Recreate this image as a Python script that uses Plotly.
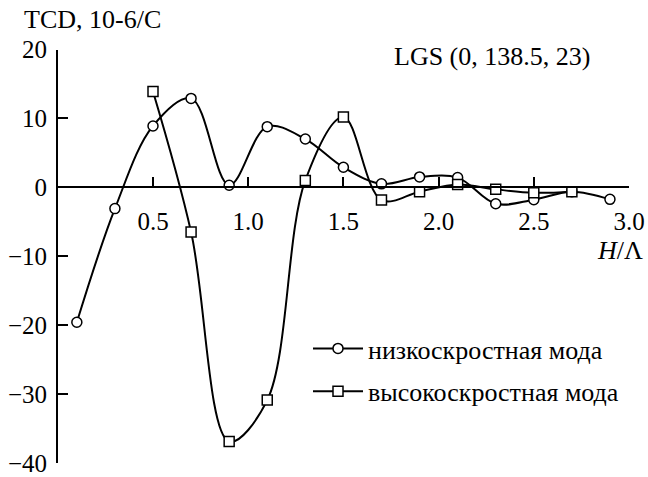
import plotly.graph_objects as go

# Thickness-dependent TCD of the two SAW modes on LGS (0, 138.5, 23)
h_low = [0.1, 0.3, 0.5, 0.7, 0.9, 1.1, 1.3, 1.5, 1.7, 1.9, 2.1, 2.3, 2.5, 2.7, 2.9]
tcd_low = [-19.6, -3.1, 8.9, 12.9, 0.3, 8.8, 7.0, 2.9, 0.5, 1.5, 1.4, -2.4, -1.8, -0.64, -1.75]

h_high = [0.5, 0.7, 0.9, 1.1, 1.3, 1.5, 1.7, 1.9, 2.1, 2.3, 2.5, 2.7]
tcd_high = [13.9, -6.5, -36.9, -30.9, 1.0, 10.2, -1.85, -0.64, 0.4, -0.3, -0.8, -0.64]

x_ticks = [0.5, 1.0, 1.5, 2.0, 2.5, 3.0]
x_ticktext = ["0.5", "1.0", "1.5", "2.0", "2.5", "3.0"]
y_ticks = [20, 10, 0, -10, -20, -30, -40]
y_ticktext = ["20", "10", "0", "\u221210", "\u221220", "\u221230", "\u221240"]

W, H = 648, 477
FONT = "Liberation Serif"
FS_TICK = 25
FS_TEXT = 26

x_dom = [57.8 / W, 629 / W]
y_dom = [(H - 462.8) / H, (H - 49.5) / H]
x_range = [0, 3.0]
y_range = [-40, 20]
# paper position of the y = 0 line, where the H/Λ axis runs
x_axis_pos = y_dom[0] + (0 - y_range[0]) / (y_range[1] - y_range[0]) * (y_dom[1] - y_dom[0])

fig = go.Figure()
fig.add_trace(go.Scatter(
    x=h_low, y=tcd_low, mode="lines+markers", name="низкоскростная мода",
    line=dict(color="black", width=2, shape="spline", smoothing=1.0),
    marker=dict(symbol="circle", size=10, color="white", line=dict(color="black", width=1.5)),
    legendgroup="low",
))
fig.add_trace(go.Scatter(
    x=h_high, y=tcd_high, mode="lines+markers", name="высокоскростная мода",
    line=dict(color="black", width=2, shape="spline", smoothing=1.0),
    marker=dict(symbol="square", size=10, color="white", line=dict(color="black", width=1.5)),
    legendgroup="high",
))
# empty carrier so the H/Λ axis along y = 0 is drawn
fig.add_trace(go.Scatter(x=[None], y=[None], xaxis="x2", yaxis="y",
                         showlegend=False, hoverinfo="skip"))

axis_style = dict(
    showline=True, linecolor="black", linewidth=1.5,
    ticks="inside", ticklen=10, tickwidth=1.5, tickcolor="black",
    showgrid=False, zeroline=False, automargin=False,
    tickfont=dict(family=FONT, size=FS_TICK, color="black"),
)

fig.update_layout(
    width=W, height=H, autosize=False,
    margin=dict(l=0, r=0, t=0, b=0, pad=0, autoexpand=False),
    paper_bgcolor="white", plot_bgcolor="white",
    font=dict(family=FONT, size=FS_TEXT, color="black"),
    showlegend=True,
    legend=dict(
        x=308 / W, y=(H - 325) / H, xanchor="left", yanchor="top",
        bgcolor="rgba(0,0,0,0)", borderwidth=0, itemwidth=50,
        traceorder="grouped", tracegroupgap=6,
        font=dict(family=FONT, size=FS_TEXT, color="black"),
    ),
    # data scale; its own bottom line is not shown
    xaxis=dict(domain=x_dom, range=x_range, showline=False, showticklabels=False,
               ticks="", showgrid=False, zeroline=False, automargin=False),
    xaxis2=dict(
        domain=x_dom, range=x_range, overlaying="x", anchor="free", position=x_axis_pos,
        tickvals=x_ticks, ticktext=x_ticktext, ticklabelstandoff=12,
        **axis_style,
    ),
    yaxis=dict(
        domain=y_dom, range=y_range,
        tickvals=y_ticks, ticktext=y_ticktext, ticklabelstandoff=4,
        **axis_style,
    ),
    annotations=[
        dict(text="TCD, 10-6/C", x=22 / W, y=(H - 19) / H, xref="paper", yref="paper",
             xanchor="left", yanchor="middle", showarrow=False,
             font=dict(family=FONT, size=FS_TEXT, color="black")),
        dict(text="LGS (0, 138.5, 23)", x=392 / W, y=(H - 56) / H, xref="paper", yref="paper",
             xanchor="left", yanchor="middle", showarrow=False,
             font=dict(family=FONT, size=FS_TEXT, color="black")),
        dict(text="<i>H</i>/\u039b", x=620 / W, y=(H - 251) / H, xref="paper", yref="paper",
             xanchor="center", yanchor="middle", showarrow=False,
             font=dict(family=FONT, size=FS_TEXT, color="black")),
    ],
)

fig.write_html("out.html", config={"responsive": False})
